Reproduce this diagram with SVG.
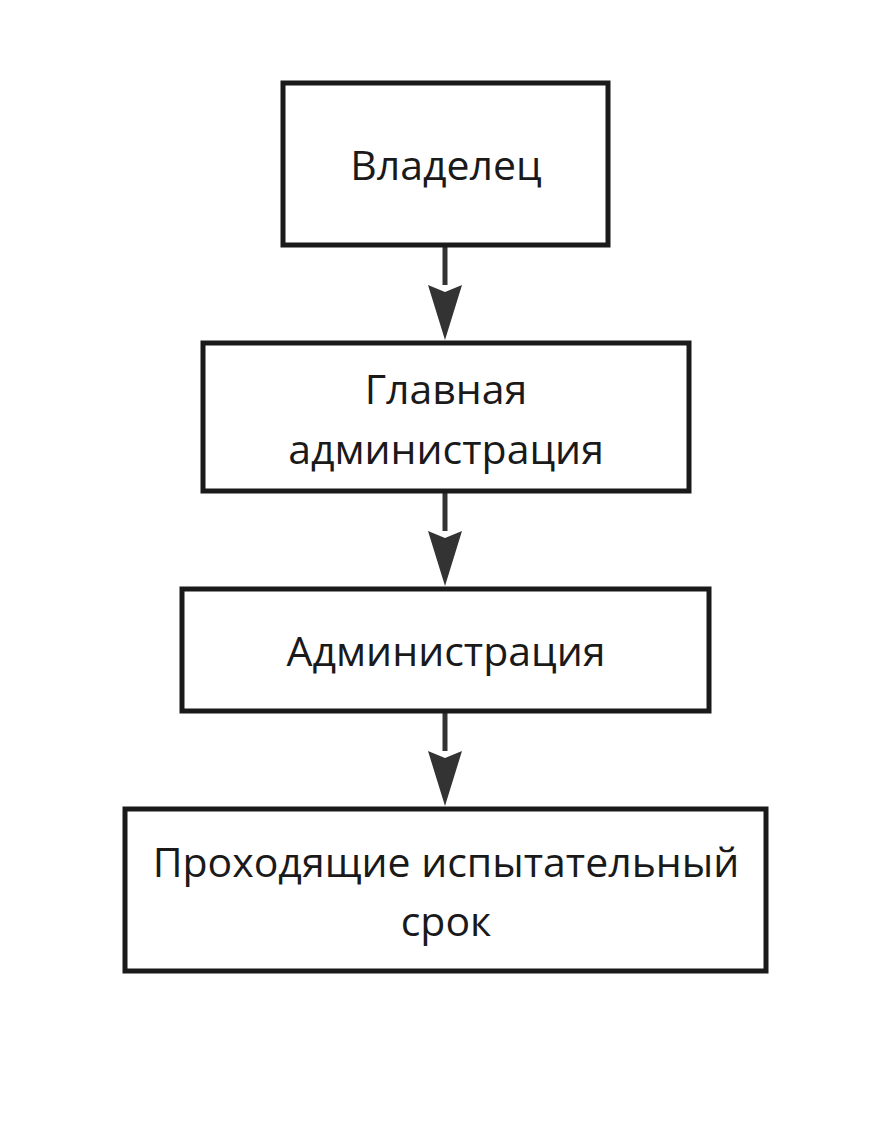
<svg xmlns="http://www.w3.org/2000/svg" width="891" height="1121" viewBox="0 0 891 1121">
<style>
.box{fill:#fff;stroke:#1a1a1a;stroke-width:5}
.t{font-family:"Open Sans","Noto Sans",sans-serif;font-size:41px;fill:#1a1a1a;text-anchor:middle}
.c{stroke:#333;stroke-width:5;fill:none}
.h{fill:#333}
</style>
<rect width="891" height="1121" fill="#fff"/>
<g id="connectors">
<line class="c" x1="445" y1="247" x2="445" y2="285"/><path class="h" d="M428,285 L445,292 L462,285 L445,340 Z"/>
<line class="c" x1="445" y1="493" x2="445" y2="531"/><path class="h" d="M428,531 L445,538 L462,531 L445,586 Z"/>
<line class="c" x1="445" y1="713" x2="445" y2="751"/><path class="h" d="M428,751 L445,758 L462,751 L445,806 Z"/>
</g>
<g id="n1"><rect class="box" x="283" y="83" width="325" height="162"/><text class="t" x="446" y="180">Владелец</text></g>
<g id="n2"><rect class="box" x="203" y="343" width="486" height="148"/><text class="t" x="446" y="404">Главная</text><text class="t" x="446" y="464">администрация</text></g>
<g id="n3"><rect class="box" x="182" y="589" width="527" height="122"/><text class="t" x="446" y="666">Администрация</text></g>
<g id="n4"><rect class="box" x="125" y="809" width="641" height="162"/><text class="t" x="446" y="877">Проходящие испытательный</text><text class="t" x="446" y="936">срок</text></g>
</svg>
